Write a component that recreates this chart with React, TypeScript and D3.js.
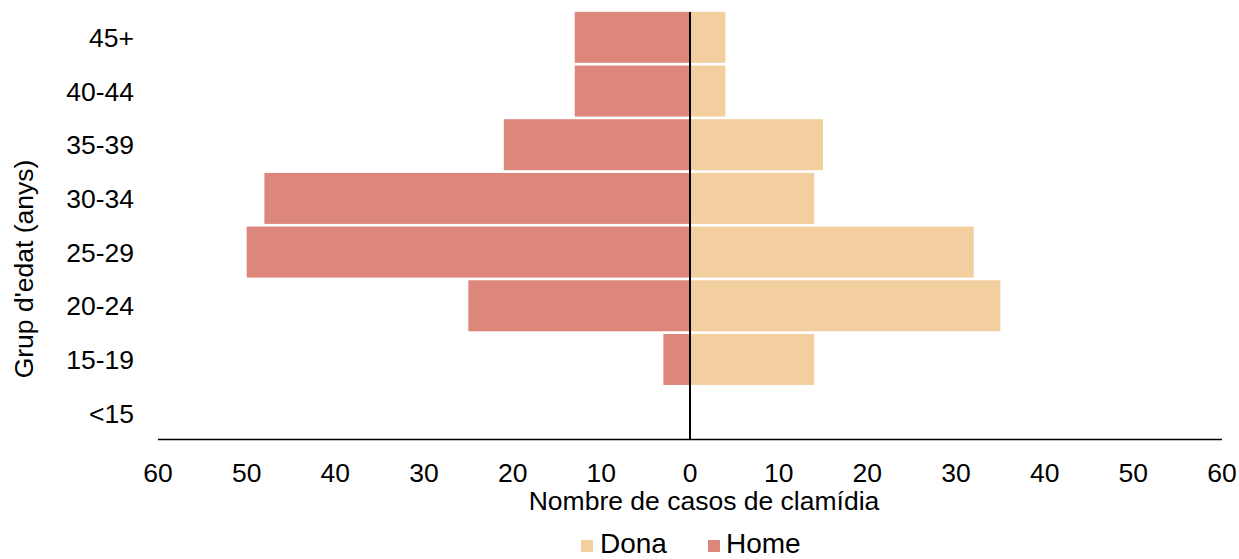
import React from 'react';
import * as d3 from 'd3';

const categories = ['45+', '40-44', '35-39', '30-34', '25-29', '20-24', '15-19', '<15'];
const homeValues = [13, 13, 21, 48, 50, 25, 3, 0];
const donaValues = [4, 4, 15, 14, 32, 35, 14, 0];
const xTicks = [-60, -50, -40, -30, -20, -10, 0, 10, 20, 30, 40, 50, 60];
const seriesNames = ['Dona', 'Home'];

const W = 1239;
const H = 559;
const HOME_COLOR = '#dd867b';
const DONA_COLOR = '#f3ce9f';
const FONT = '"Liberation Sans", Arial, sans-serif';

export default function App() {
  const x = d3.scaleLinear().domain([-60, 60]).range([158, 1222]);
  const y = d3
    .scaleBand<string>()
    .domain(categories)
    .range([10.5, 440])
    .paddingInner(0.05)
    .paddingOuter(0.025);
  const axisY = 439.5;

  return (
    <svg
      width={W}
      height={H}
      style={{ position: 'absolute', left: 0, top: 0, background: '#fff' }}
      fontFamily={FONT}
    >
      {categories.map((c, i) => (
        <g key={c}>
          <rect
            x={x(-homeValues[i])}
            y={y(c)}
            width={x(0) - x(-homeValues[i])}
            height={y.bandwidth()}
            fill={HOME_COLOR}
          />
          <rect
            x={x(0)}
            y={y(c)}
            width={x(donaValues[i]) - x(0)}
            height={y.bandwidth()}
            fill={DONA_COLOR}
          />
          <text
            x={134}
            y={(y(c) as number) + y.bandwidth() / 2}
            dy="0.36em"
            textAnchor="end"
            fontSize={26.5}
            fill="#000"
          >
            {c}
          </text>
        </g>
      ))}
      <line x1={x(0)} x2={x(0)} y1={12} y2={axisY} stroke="#000" strokeWidth={2} />
      <line x1={x(-60)} x2={x(60)} y1={axisY} y2={axisY} stroke="#000" strokeWidth={1.5} />
      {xTicks.map((t) => (
        <text key={t} x={x(t)} y={481.5} textAnchor="middle" fontSize={26.5} fill="#000">
          {Math.abs(t)}
        </text>
      ))}
      <text x={704} y={509.5} textAnchor="middle" fontSize={26.5} fill="#000">
        Nombre de casos de clamídia
      </text>
      <text
        transform="translate(33,269) rotate(-90)"
        textAnchor="middle"
        fontSize={26.5}
        fill="#000"
      >
        Grup d'edat (anys)
      </text>
      <g>
        <rect x={581} y={540} width={12} height={12} fill={DONA_COLOR} />
        <text x={600} y={553} fontSize={28} fill="#000">
          {seriesNames[0]}
        </text>
        <rect x={708} y={540} width={12} height={12} fill={HOME_COLOR} />
        <text x={726} y={553} fontSize={28} fill="#000">
          {seriesNames[1]}
        </text>
      </g>
    </svg>
  );
}
